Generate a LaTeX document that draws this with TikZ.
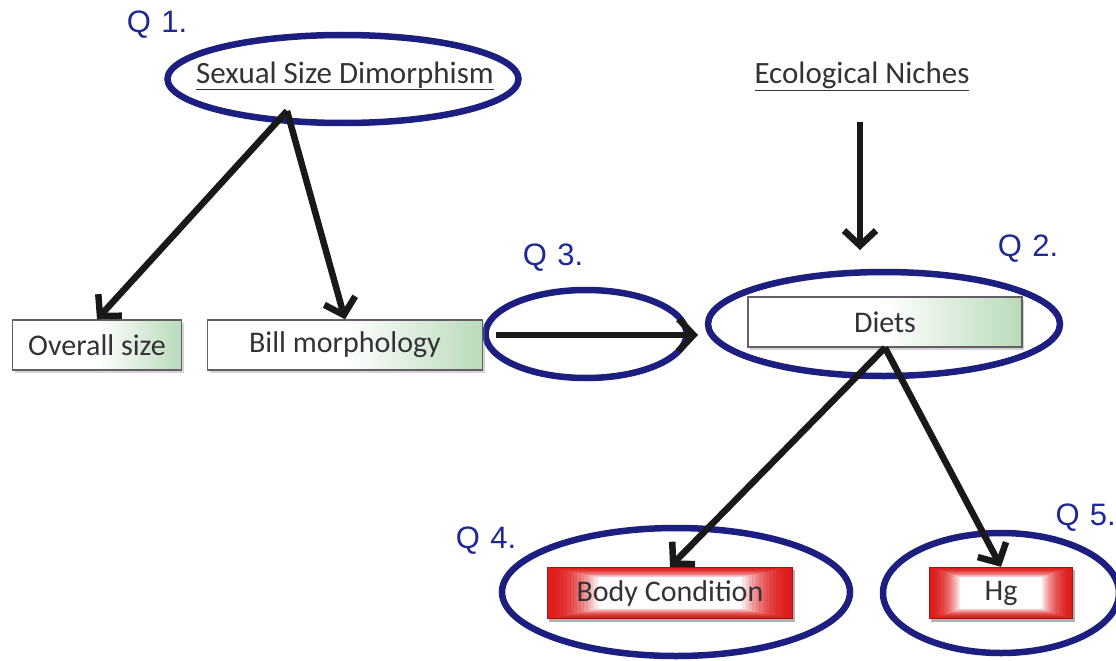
\documentclass[tikz,border=0pt]{standalone}
\usepackage{fontspec}
\setmainfont{Carlito}
\newfontfamily\qfont{Liberation Sans}
\usetikzlibrary{arrows.meta,shapes.geometric,shadows,backgrounds}
\definecolor{navy}{RGB}{28,30,128}
\definecolor{qblue}{RGB}{30,40,150}
\definecolor{txt}{RGB}{50,50,55}
\definecolor{boxedge}{RGB}{100,95,100}
\definecolor{lgreen}{RGB}{185,218,185}
\definecolor{bred}{RGB}{222,28,28}
\newcommand\redglowfill[2]{%
  \begin{pgfonlayer}{background}
    \fill[black, opacity=0.3] ([shift={(2,3)}]#1.north west) rectangle ([shift={(2,3)}]#1.south east);
    \foreach \i in {0,...,15}{
      \pgfmathsetmacro\pc{100*(1-(\i/15)^2)}
      \fill[bred!\pc!white] ([shift={(\i*#2,\i*0.7)}]#1.north west) rectangle ([shift={(-\i*#2,-\i*0.7)}]#1.south east);
    }
  \end{pgfonlayer}}
\tikzset{
  ring/.style={draw=navy, line width=6.5pt, ellipse, inner sep=0pt},
  qlabel/.style={text=qblue, font=\qfont\fontsize{31}{34}\selectfont},
  head/.style={text=txt, font=\fontsize{31}{34}\selectfont},
  greenbox/.style={draw=boxedge, line width=1.4pt, left color=white, right color=lgreen, middle color=white,
    shading angle=90, drop shadow={opacity=0.35, shadow xshift=2pt, shadow yshift=-3pt},
    text=txt, font=\fontsize{30}{33}\selectfont, inner sep=0pt},
  redbox/.style={draw=bred!75!black, line width=1.4pt,
    text=txt, font=\fontsize{30}{33}\selectfont, inner sep=0pt},
  arr/.style={line width=6.5pt, black!90, -{Straight Barb[length=15pt,width=32pt,line width=6.5pt]}}
}
\begin{document}
\begin{tikzpicture}[x=1pt,y=-1pt]
\useasboundingbox (0,0) rectangle (1116,661);
% rings
\node[ring, minimum width=351pt, minimum height=88pt] (r1) at (343,79) {};
\node[ring, minimum width=201pt, minimum height=88pt] (r3) at (586,334) {};
\node[ring, minimum width=352pt, minimum height=104pt] (r2) at (884,324) {};
\node[ring, minimum width=348pt, minimum height=128pt] (r4) at (676,592) {};
\node[ring, minimum width=236pt, minimum height=120pt] (r5) at (1001,593) {};
% headings
\node[head] (ssd) at (345,76) {\underline{Sexual Size Dimorphism}};
\node[head] (eco) at (862,76) {\underline{Ecological Niches}};
% boxes
\node[greenbox, minimum width=169pt, minimum height=50pt] (ov) at (97,345) {Overall size};
\node[greenbox, minimum width=275pt, minimum height=50pt] (bill) at (345,345) {Bill morphology};
\node[greenbox, minimum width=274pt, minimum height=50pt] (diet) at (885,322) {Diets};
\node[redbox, minimum width=245pt, minimum height=51pt] (body) at (670,593) {Body Condition};
\node[redbox, minimum width=143pt, minimum height=51pt] (hg) at (1001,593) {Hg};
\redglowfill{body}{3.4}
\redglowfill{hg}{2.1}
% Q labels
\node[qlabel] (q1) at (157,25) {Q\,\,1.};
\node[qlabel] (q2) at (1028,249) {Q\,\,2.};
\node[qlabel] (q3) at (553,258) {Q\,\,3.};
\node[qlabel] (q4) at (486,541) {Q\,\,4.};
\node[qlabel, anchor=east, inner sep=0pt] (q5) at (1116,518) {Q\,\,5.};
% connector coordinates
\coordinate (apex) at (287,111);
\coordinate (ecoTop) at (860,122);
\coordinate (dietIn) at (698,335);
\coordinate (q3Out) at (496,335);
% arrows
\draw[arr] (apex) -- (ov.north);
\draw[arr] (apex) -- (bill.north);
\draw[arr] (ecoTop) -- (860,250);
\draw[arr] (q3Out) -- (dietIn);
\draw[arr] (diet.south) -- (body.north);
\draw[arr] (diet.south) -- (hg.north);
\end{tikzpicture}
\end{document}
